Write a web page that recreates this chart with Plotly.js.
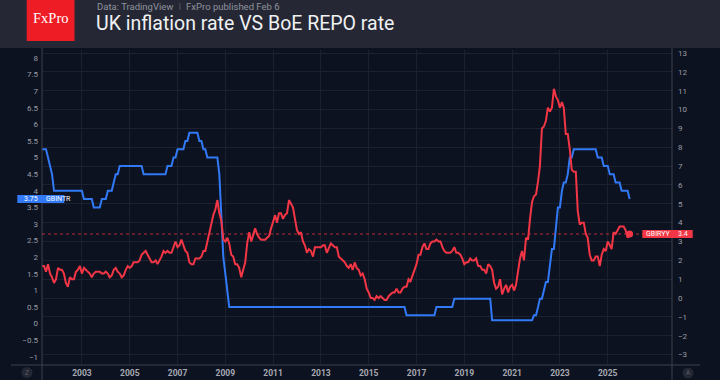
<!DOCTYPE html>
<html>
<head>
<meta charset="utf-8">
<script src="https://cdn.plot.ly/plotly-3.0.1.min.js"></script>
<style>
html,body{margin:0;padding:0;background:#0e1320;}
#chart{width:720px;height:380px;}
</style>
</head>
<body>
<div id="chart"></div>
<script>
// ---------------- DATA ----------------
// Monthly series, first value = May 2001
const startYear = 2001;
const startMonthIndex = 5;

// BoE Bank Rate (GBINTR), %
const bankRate = [
  5.25,5.25,5.25,5.0,4.75,4.5,4.0,4.0,                       // 2001 May-Dec
  4,4,4,4,4,4,4,4,4,4,4,4,                                    // 2002
  4,3.75,3.75,3.75,3.75,3.75,3.5,3.5,3.5,3.5,3.75,3.75,       // 2003
  3.75,4,4,4,4.25,4.5,4.5,4.75,4.75,4.75,4.75,4.75,           // 2004
  4.75,4.75,4.75,4.75,4.75,4.75,4.75,4.5,4.5,4.5,4.5,4.5,     // 2005
  4.5,4.5,4.5,4.5,4.5,4.5,4.5,4.75,4.75,4.75,5,5,             // 2006
  5.25,5.25,5.25,5.25,5.5,5.5,5.75,5.75,5.75,5.75,5.75,5.5,   // 2007
  5.5,5.25,5.25,5,5,5,5,5,5,4.5,3,2,                          // 2008
  1.5,1,0.5,0.5,0.5,0.5,0.5,0.5,0.5,0.5,0.5,0.5,              // 2009
  0.5,0.5,0.5,0.5,0.5,0.5,0.5,0.5,0.5,0.5,0.5,0.5,            // 2010
  0.5,0.5,0.5,0.5,0.5,0.5,0.5,0.5,0.5,0.5,0.5,0.5,            // 2011
  0.5,0.5,0.5,0.5,0.5,0.5,0.5,0.5,0.5,0.5,0.5,0.5,            // 2012
  0.5,0.5,0.5,0.5,0.5,0.5,0.5,0.5,0.5,0.5,0.5,0.5,            // 2013
  0.5,0.5,0.5,0.5,0.5,0.5,0.5,0.5,0.5,0.5,0.5,0.5,            // 2014
  0.5,0.5,0.5,0.5,0.5,0.5,0.5,0.5,0.5,0.5,0.5,0.5,            // 2015
  0.5,0.5,0.5,0.5,0.5,0.5,0.5,0.25,0.25,0.25,0.25,0.25,       // 2016
  0.25,0.25,0.25,0.25,0.25,0.25,0.25,0.25,0.25,0.25,0.5,0.5,  // 2017
  0.5,0.5,0.5,0.5,0.5,0.5,0.5,0.75,0.75,0.75,0.75,0.75,       // 2018
  0.75,0.75,0.75,0.75,0.75,0.75,0.75,0.75,0.75,0.75,0.75,0.75,// 2019
  0.75,0.75,0.1,0.1,0.1,0.1,0.1,0.1,0.1,0.1,0.1,0.1,          // 2020
  0.1,0.1,0.1,0.1,0.1,0.1,0.1,0.1,0.1,0.1,0.1,0.25,           // 2021
  0.25,0.5,0.75,0.75,1,1.25,1.25,1.75,2.25,2.25,3,3.5,        // 2022
  3.5,4,4.25,4.25,4.5,5,5,5.25,5.25,5.25,5.25,5.25,           // 2023
  5.25,5.25,5.25,5.25,5.25,5.25,5.25,5,5,5,4.75,4.75,         // 2024
  4.75,4.5,4.5,4.5,4.25,4.25,4.25,4,4,4,4,3.75                // 2025
];

// UK CPI inflation YoY (GBIRYY), %
const cpiYoY = [
  1.7,1.7,1.4,1.8,1.3,1.1,0.8,1.0,                            // 2001 May-Dec
  1.6,1.5,1.5,1.3,0.8,0.6,1.1,1.0,1.0,1.4,1.5,1.7,            // 2002
  1.3,1.6,1.5,1.4,1.3,1.1,1.3,1.4,1.4,1.4,1.3,1.3,            // 2003
  1.4,1.3,1.1,1.2,1.5,1.6,1.4,1.3,1.1,1.2,1.5,1.7,            // 2004
  1.6,1.7,1.9,1.9,1.9,2.0,2.3,2.4,2.5,2.3,2.1,1.9,            // 2005
  1.9,2.0,1.8,2.0,2.2,2.5,2.4,2.5,2.4,2.4,2.7,3.0,            // 2006
  2.7,2.8,3.1,2.8,2.5,2.4,1.9,1.8,1.8,2.1,2.1,2.1,            // 2007
  2.2,2.5,2.5,3.0,3.3,3.8,4.4,4.7,5.2,4.5,4.1,3.1,            // 2008
  3.0,3.2,2.9,2.3,2.2,1.8,1.8,1.6,1.1,1.5,1.9,2.9,            // 2009
  3.5,3.0,3.4,3.7,3.4,3.2,3.1,3.1,3.1,3.2,3.3,3.7,            // 2010
  4.0,4.4,4.0,4.5,4.5,4.2,4.4,4.5,5.2,5.0,4.8,4.2,            // 2011
  3.6,3.4,3.5,3.0,2.8,2.4,2.6,2.5,2.2,2.7,2.7,2.7,            // 2012
  2.7,2.8,2.8,2.4,2.7,2.9,2.8,2.7,2.7,2.2,2.1,2.0,            // 2013
  1.9,1.7,1.6,1.8,1.5,1.9,1.6,1.5,1.2,1.3,1.0,0.5,            // 2014
  0.3,0.0,0.0,-0.1,0.1,0.0,0.1,0.0,-0.1,-0.1,0.1,0.2,         // 2015
  0.3,0.3,0.5,0.3,0.3,0.5,0.6,0.6,1.0,0.9,1.2,1.6,            // 2016
  1.8,2.3,2.3,2.7,2.9,2.6,2.6,2.9,3.0,3.0,3.1,3.0,            // 2017
  3.0,2.7,2.5,2.4,2.4,2.4,2.5,2.7,2.4,2.4,2.3,2.1,            // 2018
  1.8,1.9,1.9,2.1,2.0,2.0,2.1,1.7,1.7,1.5,1.5,1.3,            // 2019
  1.8,1.7,1.5,0.8,0.5,0.6,1.0,0.2,0.5,0.7,0.3,0.6,            // 2020
  0.7,0.4,0.7,1.5,2.1,2.5,2.0,3.2,3.1,4.2,5.1,5.4,            // 2021
  5.5,6.2,7.0,9.0,9.1,9.4,10.1,9.9,10.1,11.1,10.7,10.5,       // 2022
  10.1,10.4,10.1,8.7,8.7,7.9,6.8,6.7,6.7,4.6,3.9,4.0,         // 2023
  4.0,3.4,3.2,2.3,2.0,2.0,2.2,2.2,1.7,2.3,2.6,2.5,            // 2024
  3.0,2.8,2.6,3.5,3.4,3.6,3.8,3.8,3.8,3.6,3.2,3.4             // 2025
];

const bankLabel = 'GBINTR';
const cpiLabel = 'GBIRYY';
const yearTicks = ['2003','2005','2007','2009','2011','2013','2015','2017','2019','2021','2023','2025'];
const titleText = 'UK inflation rate VS BoE REPO rate';
const sourceText = 'Data: TradingView';
const publishText = 'FxPro published Feb 6';
const logoText = 'FxPro';

// ---------------- BUILD ----------------
function monthDates(n){
  const out = [];
  for (let i = 0; i < n; i++){
    const t = (startMonthIndex - 1) + i;
    const y = startYear + Math.floor(t / 12);
    const m = (t % 12) + 1;
    out.push(y + '-' + String(m).padStart(2,'0') + '-01');
  }
  return out;
}
const datesBank = monthDates(bankRate.length);
const datesCpi = monthDates(cpiYoY.length);

const W = 720, H = 380;
const M = {l:42, r:48, t:50, b:15};
const PW = W - M.l - M.r, PH = H - M.t - M.b;
const xp = px => (px - M.l) / PW;
const yp = py => (H - M.b - py) / PH;

const BLUE = '#3179f5';
const RED = '#f23645';
const BG = '#0d1220';
const HEADER = '#252834';
const AXIS = '#3c404c';
const GRID = '#1c2130';
const TICK = '#9a9da6';
const FONT = 'Roboto, "Noto Sans", sans-serif';

const lastBank = bankRate[bankRate.length-1];
const lastCpi = cpiYoY[cpiYoY.length-1];
const lastCpiDate = datesCpi[datesCpi.length-1];

const traces = [
  {x: datesBank, y: bankRate, type:'scatter', mode:'lines', yaxis:'y',
   line:{color:BLUE, width:2}, hoverinfo:'skip', showlegend:false},
  {x: datesCpi, y: cpiYoY, type:'scatter', mode:'lines', yaxis:'y2',
   line:{color:RED, width:2}, hoverinfo:'skip', showlegend:false},
  {x: [lastCpiDate], y: [lastCpi], type:'scatter', mode:'markers', yaxis:'y2',
   marker:{color:RED, size:7}, hoverinfo:'skip', showlegend:false}
];

const shapes = [
  // header band
  {type:'rect', xref:'paper', yref:'paper', x0:xp(-10), x1:xp(730), y0:yp(48), y1:yp(-5),
   fillcolor:HEADER, line:{width:0}, layer:'below'},
  // logo
  {type:'rect', xref:'paper', yref:'paper', x0:xp(26.7), x1:xp(74.5), y0:yp(41), y1:yp(-2),
   fillcolor:'#ee1c25', line:{width:0}},
  // axis frame lines
  {type:'line', xref:'paper', yref:'paper', x0:0, x1:0, y0:yp(48), y1:yp(381), line:{color:AXIS, width:1}},
  {type:'line', xref:'paper', yref:'paper', x0:1, x1:1, y0:yp(48), y1:yp(381), line:{color:AXIS, width:1}},
  {type:'line', xref:'paper', yref:'paper', x0:xp(11), x1:xp(700), y0:0, y1:0, line:{color:AXIS, width:1}},
  // last CPI dotted level
  {type:'line', xref:'paper', yref:'y2', x0:0, x1:1, y0:lastCpi, y1:lastCpi,
   line:{color:'rgba(242,54,69,0.75)', width:1, dash:'dot'}},
  // label boxes
  {type:'rect', xref:'paper', yref:'paper', x0:xp(17.3), x1:xp(64.3), y0:yp(203), y1:yp(195),
   fillcolor:BLUE, line:{width:0}},
  {type:'rect', xref:'paper', yref:'paper', x0:xp(642.3), x1:xp(692.7), y0:yp(238), y1:yp(230),
   fillcolor:RED, line:{width:0}},
  // corner buttons
  {type:'circle', xref:'paper', yref:'paper', x0:xp(21.5), x1:xp(32.5), y0:yp(378), y1:yp(367),
   fillcolor:'#232734', line:{width:0}},
  {type:'circle', xref:'paper', yref:'paper', x0:xp(682.5), x1:xp(693.5), y0:yp(378.5), y1:yp(367.5),
   fillcolor:'#232734', line:{width:0}}
];

const ann = (o) => Object.assign({xref:'paper', yref:'paper', showarrow:false, borderpad:0}, o);
const annotations = [
  ann({x:xp(50.8), y:yp(18.5), xanchor:'center', yanchor:'middle', text:logoText,
       font:{family:'"Liberation Serif", "DejaVu Serif", serif', size:14.5, color:'#ffffff'}}),
  ann({x:xp(95.5), y:yp(6.8), xanchor:'left', yanchor:'middle',
       text:sourceText + '  <span style="color:#5d606b">ǀ</span>  ' + publishText,
       font:{family:FONT, size:9.5, color:'#8f939d'}}),
  ann({x:xp(95), y:yp(23.8), xanchor:'left', yanchor:'middle', text:titleText,
       font:{family:FONT, size:19.5, color:'#f0f1f3'}}),
  ann({x:xp(38.6), y:yp(199), xanchor:'right', yanchor:'middle', text:String(lastBank),
       font:{family:FONT, size:7, color:'#ffffff'}}),
  ann({x:xp(44.5), y:yp(199), xanchor:'left', yanchor:'middle', text:bankLabel,
       font:{family:FONT, size:7, color:'#ffffff'}}),
  ann({x:xp(645), y:yp(234), xanchor:'left', yanchor:'middle', text:cpiLabel,
       font:{family:FONT, size:7, color:'#ffffff'}}),
  ann({x:xp(676.5), y:yp(234), xanchor:'left', yanchor:'middle', text:String(lastCpi),
       font:{family:FONT, size:7, color:'#ffffff'}}),
  ann({x:xp(27), y:yp(372.5), xanchor:'center', yanchor:'middle', text:'Z',
       font:{family:FONT, size:6.5, color:'#5d606b'}}),
  ann({x:xp(688), y:yp(373), xanchor:'center', yanchor:'middle', text:'A',
       font:{family:FONT, size:6.5, color:'#5d606b'}})
];

const layout = {
  width:W, height:H,
  margin:{l:M.l, r:M.r, t:M.t, b:M.b, pad:0},
  paper_bgcolor:BG, plot_bgcolor:BG,
  showlegend:false,
  xaxis:{type:'date', range:['2001-05-01','2027-09-10'],
    tickvals: yearTicks.map(y => y + '-01-01'), ticktext: yearTicks,
    showgrid:true, gridcolor:GRID, gridwidth:1, zeroline:false, showline:false, ticks:'',
    tickfont:{family:FONT, size:8.5, color:'#a6a9b2', weight:'bold'}, ticklabelstandoff:1, fixedrange:true},
  yaxis:{range:[-1.247, 8.24], dtick:0.5, tick0:0, showgrid:false, zeroline:false, showline:false,
    ticks:'', side:'left', tickfont:{family:FONT, size:8, color:TICK}, ticklabelstandoff:3, fixedrange:true},
  yaxis2:{range:[-3.55, 13.16], dtick:1, tick0:0, overlaying:'y', side:'right',
    showgrid:true, gridcolor:GRID, gridwidth:1, zeroline:false, showline:false, ticks:'',
    tickfont:{family:FONT, size:8, color:TICK}, ticklabelstandoff:5, fixedrange:true},
  shapes: shapes,
  annotations: annotations
};

Plotly.newPlot('chart', traces, layout, {staticPlot:true, displayModeBar:false});
</script>
</body>
</html>
